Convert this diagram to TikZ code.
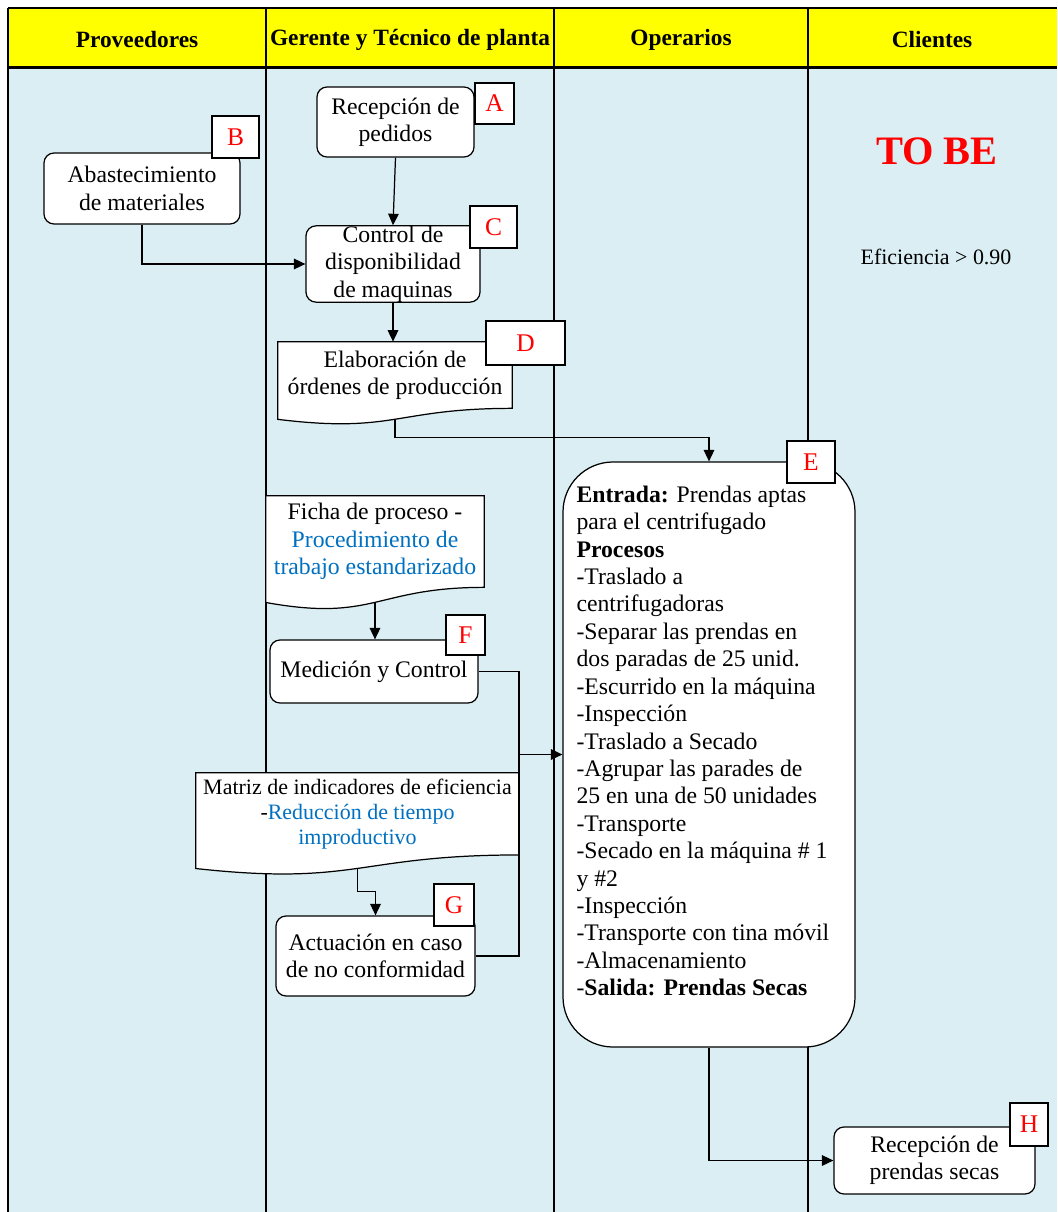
\documentclass[tikz,border=0pt]{standalone}
\usepackage{fontspec}
\setmainfont{Liberation Serif}
\usetikzlibrary{calc,arrows.meta}
\pgfdeclarelayer{bg}
\pgfsetlayers{bg,main}
\definecolor{laneblue}{HTML}{DAEEF3}
\definecolor{hdryellow}{HTML}{FFFF00}
\definecolor{linkblue}{HTML}{0070C0}
\definecolor{tagred}{HTML}{FF0000}

% Document symbol: rectangle with a wavy lower edge, drawn around a named node
\newcommand\docoutline[1]{%
  \path[docshape] (#1.north west) -- (#1.north east) -- (#1.south east)
    .. controls (#1.south) and ($(#1.north)!1.381!(#1.south)$)
    .. ($(#1.north west)!1.1646!(#1.south west)$) -- cycle;}

\begin{document}
\begin{tikzpicture}[x=0.02cm,y=-0.02cm,
  body/.style={font=\fontsize{13.5}{15.6}\selectfont, align=center},
  sz/.style 2 args={minimum width=#1*0.02cm, minimum height=#2*0.02cm},
  proc/.style={body, draw, fill=white, rounded corners=0.2cm, line width=0.7pt, inner sep=0pt},
  doc/.style={body, inner sep=0pt},
  docshape/.style={draw, fill=white, line width=0.7pt},
  tag/.style={draw, fill=white, line width=0.7pt, text=tagred, font=\fontsize{14.5}{16}\selectfont, inner sep=0pt},
  hdr/.style={font=\fontsize{13.3}{16}\selectfont\bfseries},
  lane/.style={line width=1pt},
  frame/.style={line width=1.7pt},
  link/.style={line width=0.7pt},
  flow/.style={line width=0.7pt, -{Triangle[length=6.5pt,width=6pt]}},
]
\useasboundingbox (0,0) rectangle (1057,1212);

% swimlanes
\begin{pgfonlayer}{bg}
  \fill[laneblue] (8,68) rectangle (1057,1212);
  \fill[hdryellow] (8,8) rectangle (1057,68);
  \draw[lane] (266,8) -- (266,1212);
  \draw[lane] (554,8) -- (554,1212);
  \draw[lane] (808,8) -- (808,1212);
  \draw[line width=1.2pt] (8,8) -- (1057,8);
  \draw[frame] (8,68) -- (1057,68);
  \draw[frame] (8,8) -- (8,1212);
\end{pgfonlayer}

% lane headers
\node[hdr] (hProv) at (137,40) {Proveedores};
\node[hdr] (hGer) at (410,40) {Gerente y Técnico de planta};
\node[hdr] (hOp) at (681,40) {Operarios};
\node[hdr] (hCli) at (932,40) {Clientes};

% titles in the client lane
\node[font=\fontsize{23}{26}\selectfont\bfseries, text=tagred] (tobe) at (937,151) {TO BE};
\node[font=\fontsize{12.5}{15}\selectfont] (efic) at (936,257) {Eficiencia > 0.90};

% process boxes
\node[proc, sz={157}{70}] (A) at (395.5,122) {Recepción de\\pedidos};
\node[proc, sz={196}{71}] (B) at (142,188.5) {Abastecimiento\\de materiales};
\node[proc, sz={174}{72}] (C) at (393,264) {Control de\\disponibilidad\\de maquinas};
\node[doc, sz={234}{66}] (D) at (395,375) {Elaboración de\\órdenes de producción};
\node[proc, sz={292}{585}, rounded corners=1cm] (E) at (709,754.5)
  [align=flush left, text width=5.3cm]{\textbf{Entrada:} Prendas aptas\\
  para el centrifugado\\
  \textbf{Procesos}\\
  -Traslado a\\
  centrifugadoras\\
  -Separar las prendas en\\
  dos paradas de 25 unid.\\
  -Escurrido en la máquina\\
  -Inspección\\
  -Traslado a Secado\\
  -Agrupar las parades de\\
  25 en una de 50 unidades\\
  -Transporte\\
  -Secado en la máquina \#~1\\
  y \#2\\
  -Inspección\\
  -Transporte con tina móvil\\
  -Almacenamiento\\
  -\textbf{Salida: Prendas Secas}\\
  ~};
\node[doc, sz={218}{91}] (Fi) at (375,541.5) {Ficha de proceso -\\
  \textcolor{linkblue}{Procedimiento de}\\
  \textcolor{linkblue}{trabajo estandarizado}};
\node[proc, sz={208}{63}] (F) at (374,671.5) {Medición y Control};
\node[doc, sz={323}{81.6}, font=\fontsize{12.5}{14.2}\selectfont] (M) at (357.5,813.8)
  {Matriz de indicadores de eficiencia\\
  -\textcolor{linkblue}{Reducción de tiempo}\\
  \textcolor{linkblue}{improductivo}};
\node[proc, sz={199}{80}] (G) at (375.5,956) {Actuación en caso\\de no conformidad};
\node[proc, sz={201}{67}] (H) at (934.5,1160.5) {Recepción de\\prendas secas};

% document outlines behind their texts
\begin{pgfonlayer}{bg}
  \docoutline{D}
  \docoutline{Fi}
  \docoutline{M}
\end{pgfonlayer}
\coordinate (D-out) at ($(D.north)!1.1633!(D.south)$);
\coordinate (Fi-out) at ($(Fi.north)!1.1633!(Fi.south)$);
\coordinate (M-out) at ($(M.north)!1.1633!(M.south)$);

% letter tags
\node[tag, sz={39}{41}] (tA) at (494.5,103.5) {A};
\node[tag, sz={47}{42}] (tB) at (235.5,137) {B};
\node[tag, sz={47}{42}] (tC) at (493.5,227) {C};
\node[tag, sz={79}{44}] (tD) at (525.5,343) {D};
\node[tag, sz={48}{42}] (tE) at (811,462) {E};
\node[tag, sz={39}{40}] (tF) at (465.5,635) {F};
\node[tag, sz={40}{42}] (tG) at (454,905) {G};
\node[tag, sz={38}{43}] (tH) at (1029,1124.5) {H};

% connectors
\draw[flow] (A.south) -- (C.north);
\draw[flow] (B.south) |- (C.west);
\draw[flow] (C.south) -- (C.south |- D.north);
\draw[flow] (D-out) |- ($(E.north)+(0,-24)$) -- (E.north);
\draw[flow] (Fi-out) -- (Fi-out |- F.north);
\coordinate (jn) at (519,754.5);
\draw[link] (F.east) -| (jn);
\draw[link] (G.east) -| (jn);
\draw[flow] (jn) -- (E.west);
\draw[flow] (M-out) |- ($(G.north)+(0,-24)$) -- (G.north);
\draw[flow] (E.south) |- (H.west);
\end{tikzpicture}
\end{document}
